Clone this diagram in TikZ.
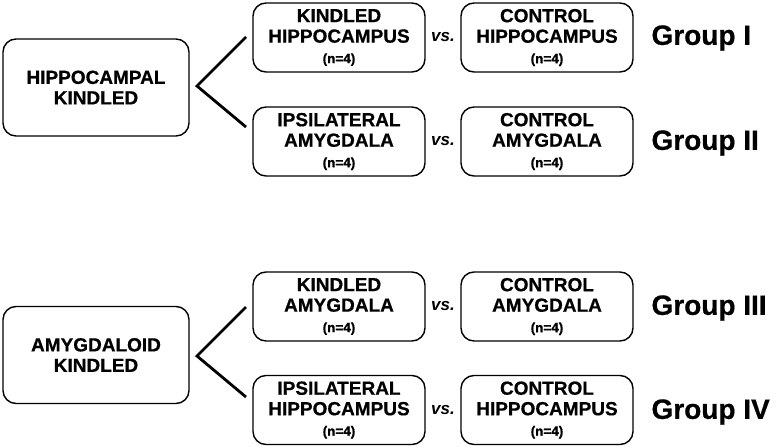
\documentclass[tikz,border=0pt]{standalone}
\usepackage{fontspec}
\setmainfont{Liberation Sans}[BoldFeatures={FakeBold=0.6}]
\usetikzlibrary{positioning,calc}

\begin{document}
\begin{tikzpicture}[x=1pt,y=-1pt,
  box/.style={rectangle, draw, rounded corners=13pt, line width=1.4pt,
    minimum width=172pt, minimum height=69pt, inner sep=0pt, align=center,
    font=\bfseries\fontsize{19}{20.5}\selectfont,
    execute at begin node=\rule{0pt}{27pt}},
  bigbox/.style={box, minimum width=186pt, minimum height=97pt},
  vslabel/.style={font=\bfseries\itshape\fontsize{17}{17}\selectfont},
  grouplabel/.style={anchor=west, font=\bfseries\fontsize{28}{28}\selectfont},
  fork/.style={line width=2.8pt}
]
  \useasboundingbox (0,0) rectangle (774,447);

  % hippocampal kindled
  \node[bigbox] (hipk) at (96,87.5) {HIPPOCAMPAL\\KINDLED};
  \node[box] (kindhip) at (339,37.5)
    {KINDLED\\HIPPOCAMPUS\\{\fontsize{13.5}{13.5}\selectfont (n=4)}};
  \node[box] (conhip) at (547,37.5)
    {CONTROL\\HIPPOCAMPUS\\{\fontsize{13.5}{13.5}\selectfont (n=4)}};
  \node[box] (ipsiamy) at (339,141.5)
    {IPSILATERAL\\AMYGDALA\\{\fontsize{13.5}{13.5}\selectfont (n=4)}};
  \node[box] (conamy) at (547,141.5)
    {CONTROL\\AMYGDALA\\{\fontsize{13.5}{13.5}\selectfont (n=4)}};

  % amygdaloid kindled
  \node[bigbox] (amyk) at (96,355) {AMYGDALOID\\KINDLED};
  \node[box] (kindamy) at (339,306.5)
    {KINDLED\\AMYGDALA\\{\fontsize{13.5}{13.5}\selectfont (n=4)}};
  \node[box] (conamyb) at (547,306.5)
    {CONTROL\\AMYGDALA\\{\fontsize{13.5}{13.5}\selectfont (n=4)}};
  \node[box] (ipsihip) at (339,410)
    {IPSILATERAL\\HIPPOCAMPUS\\{\fontsize{13.5}{13.5}\selectfont (n=4)}};
  \node[box] (conhipb) at (547,410)
    {CONTROL\\HIPPOCAMPUS\\{\fontsize{13.5}{13.5}\selectfont (n=4)}};

  % vs. labels
  \node[vslabel] (vsa) at (443,37.5) {vs.};
  \node[vslabel] (vsb) at (443,141.5) {vs.};
  \node[vslabel] (vsc) at (443,306.5) {vs.};
  \node[vslabel] (vsd) at (443,410) {vs.};

  % group names
  \node[grouplabel] (ga) at (648,38) {Group I};
  \node[grouplabel] (gb) at (648,143) {Group II};
  \node[grouplabel] (gc) at (648,308) {Group III};
  \node[grouplabel] (gd) at (648,412) {Group IV};

  % forks
  \coordinate (hipfork) at (197,86);
  \coordinate (hipup) at (246,37);
  \coordinate (hipdown) at (246,127);
  \coordinate (amyfork) at (197,356);
  \coordinate (amyup) at (246,307);
  \coordinate (amydown) at (246,397);
  \draw[fork] (hipup) -- (hipfork) -- (hipdown);
  \draw[fork] (amyup) -- (amyfork) -- (amydown);
\end{tikzpicture}
\end{document}
